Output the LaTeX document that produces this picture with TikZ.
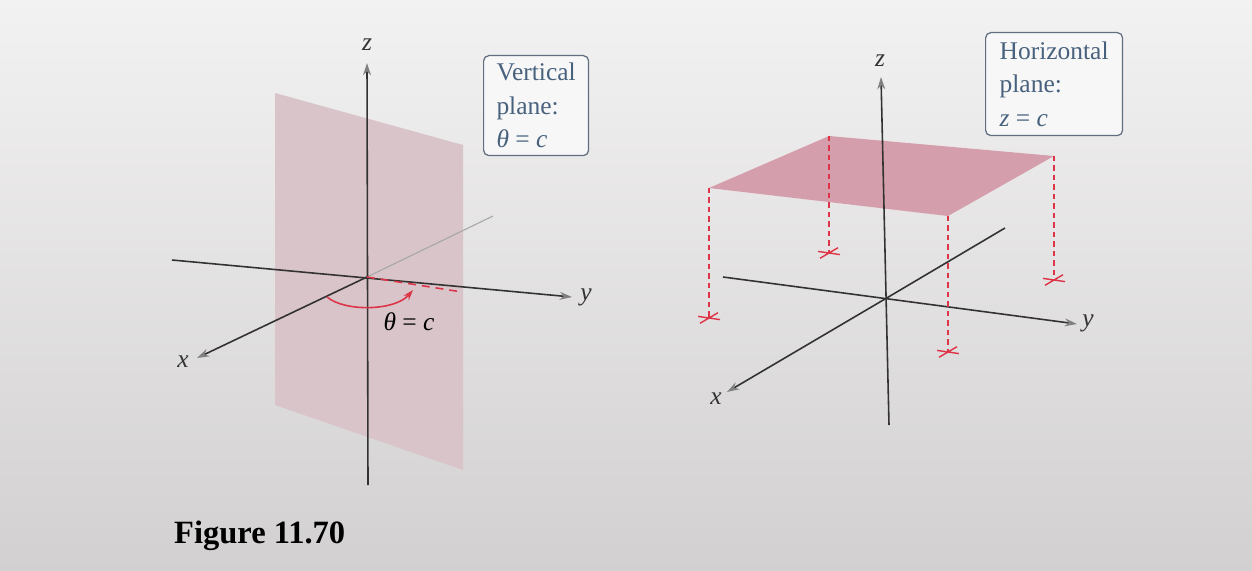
\documentclass[tikz,border=0pt]{standalone}
\usepackage{fontspec}
\setmainfont{Liberation Serif}
\usepackage{xcolor}
\usepackage{tikz}
\usetikzlibrary{arrows.meta, positioning, calc}

\definecolor{bgtop}{RGB}{243,242,242}
\definecolor{bgbot}{RGB}{210,208,208}
\definecolor{vplane}{RGB}{216,196,201}
\definecolor{hplane}{RGB}{213,158,172}
\definecolor{markred}{RGB}{222,52,72}
\definecolor{boxtext}{RGB}{72,98,126}
\definecolor{boxline}{RGB}{96,110,128}
\definecolor{axisgray}{RGB}{50,50,50}

\tikzset{
  dropmark/.pic={
    \draw[markred, line width=0.8pt] (-9,5.3) -- (9,-5.3) (-11,-1.6) -- (11,1.6);
  },
}

\begin{document}
\begin{tikzpicture}[
  x=0.02cm, y=-0.02cm,
  every node/.style={font=\fontsize{14.5}{19}\selectfont},
  axis/.style={draw=axisgray, line width=0.9pt},
  axisback/.style={draw=gray!70, line width=0.6pt},
  axisarrow/.style={axis, -{Stealth[length=7pt, width=4.5pt, color=gray]}},
  axislabel/.style={font=\fontsize{14.5}{17}\itshape, text=black!80},
  trace/.style={draw=markred, line width=0.9pt, dash pattern=on 4.5pt off 3.4pt},
  dropline/.style={draw=markred, line width=0.6pt, dash pattern=on 3pt off 2.4pt},
  sweep/.style={draw=markred, line width=0.9pt, -{Stealth[length=6pt, width=4pt]}},
  infobox/.style={
    draw=boxline, line width=0.7pt, rounded corners=3pt,
    fill=white!40!bgtop, text=boxtext,
    align=left, inner xsep=0.2cm, inner ysep=0.14cm, anchor=north west,
  },
]
  % page background
  \shade[top color=bgtop, bottom color=bgbot] (0,0) rectangle (1252,571);
  \useasboundingbox (0,0) rectangle (1252,571);

  % ---- vertical plane theta = c
  \coordinate (O1) at (367,277);
  \coordinate (z1) at (367,63);
  \coordinate (zb1) at (368,485);
  \coordinate (ya1) at (172,260);
  \coordinate (y1) at (572,297);
  \coordinate (xb1) at (493,216);
  \coordinate (x1) at (197,358);
  \coordinate (tr1) at (462,292);
  \coordinate (arcA) at (327,297);
  \coordinate (arcB) at (413,290);

  \fill[vplane] (275,93) -- (463,145) -- (463,470) -- (275,405) -- cycle;

  \draw[axisback] (O1) -- (xb1);
  \draw[axisarrow] (ya1) -- (y1);
  \draw[axisarrow] (O1) -- (x1);
  \draw[axisarrow] (zb1) -- (z1);
  \draw[trace] (O1) -- (tr1);
  \draw[sweep] (arcA) .. controls (345,312) and (395,311) .. (arcB);

  \node[axislabel] (zl1) at (367,45) {z};
  \node[axislabel] (yl1) at (586,297) {y};
  \node[axislabel] (xl1) at (183,362) {x};
  \node (th1) at (409,322) {\textit{θ} = \textit{c}};
  \node[infobox, minimum width=2.1cm, minimum height=2.0cm] (vbox) at (483,55)
    {Vertical\\plane:\\\textit{θ} = \textit{c}};

  % ---- horizontal plane z = c
  \coordinate (O2) at (885,299);
  \coordinate (z2) at (881,77);
  \coordinate (zb2) at (889,425);
  \coordinate (ya2) at (723,277);
  \coordinate (y2) at (1077,324);
  \coordinate (xb2) at (1005,228);
  \coordinate (x2) at (727,392);
  \coordinate (pl) at (709,188);
  \coordinate (pb) at (829,136);
  \coordinate (pr) at (1054,156);
  \coordinate (pf) at (948,216);
  \coordinate (ml) at (709,318);
  \coordinate (mb) at (829,253);
  \coordinate (mr) at (1054,280);
  \coordinate (mf) at (948,352);

  \fill[hplane] (pl) -- (pb) -- (pr) -- (pf) -- cycle;

  \draw[axis] (O2) -- (xb2);
  \draw[axisarrow] (ya2) -- (y2);
  \draw[axisarrow] (O2) -- (x2);
  \draw[axisarrow] (zb2) -- (z2);

  \draw[dropline] (pl) -- (ml);
  \draw[dropline] (pb) -- (mb);
  \draw[dropline] (pr) -- (mr);
  \draw[dropline] (pf) -- (mf);
  \pic at (ml) {dropmark};
  \pic at (mb) {dropmark};
  \pic at (mr) {dropmark};
  \pic at (mf) {dropmark};

  \node[axislabel] (zl2) at (880,61) {z};
  \node[axislabel] (yl2) at (1088,323) {y};
  \node[axislabel] (xl2) at (716,399) {x};
  \node[infobox, minimum width=2.74cm, minimum height=2.06cm] (hbox) at (985,32)
    {Horizontal\\plane:\\\textit{z} = \textit{c}};

  % caption
  \node[font=\bfseries\fontsize{18.5}{22}\selectfont, anchor=base west] (cap) at (168,543) {Figure 11.70};
\end{tikzpicture}
\end{document}
